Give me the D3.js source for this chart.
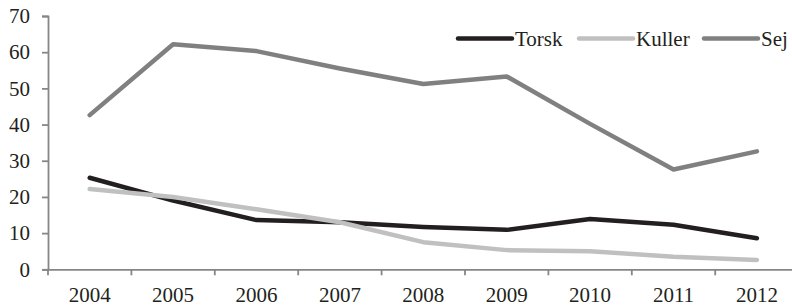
<!DOCTYPE html>
<html><head><meta charset="utf-8">
<script src="https://cdn.jsdelivr.net/npm/d3@7"></script>
<style>
body{margin:0;background:#fff;}
svg{display:block;}
</style></head>
<body>
<svg id="c" width="792" height="306"></svg>
<script>
const years = ["2004","2005","2006","2007","2008","2009","2010","2011","2012"];
const torsk = [25.3, 19.0, 13.6, 13.0, 11.7, 10.9, 13.9, 12.3, 8.6];
const kuller = [22.2, 20.0, 16.6, 13.0, 7.5, 5.3, 5.0, 3.5, 2.6];
const sej = [42.6, 62.2, 60.3, 55.5, 51.2, 53.3, 40.2, 27.6, 32.6];
const yTicks = [0,10,20,30,40,50,60,70];
const seriesNames = ["Torsk","Kuller","Sej"];
const seriesColors = ["#231f20","#c0c0c0","#808080"];
const seriesData = [torsk, kuller, sej];

const FONT = "'Liberation Serif'";
const svg = d3.select("#c");
const x = d3.scaleBand().domain(years).range([48, 798.6]);
const y = d3.scaleLinear().domain([0,70]).range([269.3, 16]);

const axisColor = "#868686";
const fs = "21px";

// y axis
const ya = svg.append("g").attr("transform","translate(48,0)")
  .call(d3.axisLeft(y).tickValues(yTicks).tickSize(6).tickPadding(12).tickFormat(d3.format("d")));
ya.select(".domain").attr("stroke",axisColor).attr("stroke-width",1.8);
ya.selectAll(".tick line").attr("stroke",axisColor).attr("stroke-width",1.8);
ya.selectAll(".tick text").style("font-size",fs).style("font-family",FONT).attr("fill","#231f20");

// x axis
const xa = svg.append("g").attr("transform","translate(0,269.3)")
  .call(d3.axisBottom(x).tickSize(0).tickPadding(18));
xa.select(".domain").attr("stroke",axisColor).attr("stroke-width",1.8);
xa.selectAll(".tick text").style("font-size",fs).style("font-family",FONT).attr("fill","#231f20");
const bounds = d3.range(years.length+1).map(i => x.range()[0] + i*x.step());
xa.selectAll(".bt").data(bounds).enter().append("line")
  .attr("x1",d=>d).attr("x2",d=>d).attr("y1",0).attr("y2",6)
  .attr("stroke",axisColor).attr("stroke-width",1.8);

// lines
const line = d3.line().x((d,i)=>x(years[i])+x.bandwidth()/2).y(d=>y(d));
seriesData.forEach((s,k)=>{
  svg.append("path").datum(s).attr("d",line)
    .attr("fill","none").attr("stroke",seriesColors[k]).attr("stroke-width",4.5)
    .attr("stroke-linejoin","round").attr("stroke-linecap","round");
});

// legend
const legX = [458, 579, 704];
const legY = 38.5;
seriesNames.forEach((n,k)=>{
  const g = svg.append("g");
  g.append("line").attr("x1",legX[k]).attr("x2",legX[k]+54).attr("y1",legY).attr("y2",legY)
    .attr("stroke",seriesColors[k]).attr("stroke-width",4.5).attr("stroke-linecap","round");
  g.append("text").attr("x",legX[k]+57).attr("y",legY+7)
    .style("font-size",fs).style("font-family",FONT).attr("fill","#231f20").text(n);
});
</script>
</body></html>
